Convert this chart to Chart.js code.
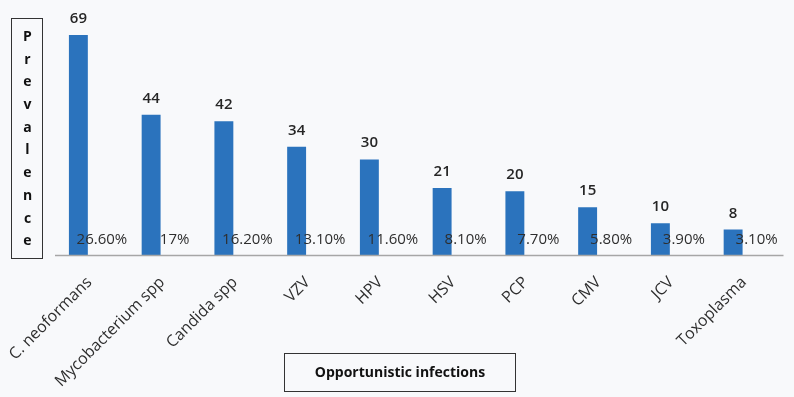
<!DOCTYPE html>
<html>
<head>
<meta charset="utf-8">
<script src="https://cdn.jsdelivr.net/npm/chart.js@4/dist/chart.umd.min.js"></script>
<style>
  html, body { margin: 0; padding: 0; background: #f8f9fb; }
  #wrap { width: 794px; height: 397px; position: relative; }
</style>
</head>
<body>
<div id="wrap"><canvas id="c" width="794" height="397"></canvas></div>
<script>
const categories = ["C. neoformans", "Mycobacterium spp", "Candida spp", "VZV", "HPV", "HSV", "PCP", "CMV", "JCV", "Toxoplasma"];
const prevalenceCounts = [69, 44, 42, 34, 30, 21, 20, 15, 10, 8];
const prevalencePercents = ["26.60%", "17%", "16.20%", "13.10%", "11.60%", "8.10%", "7.70%", "5.80%", "3.90%", "3.10%"];
const yAxisTitle = "Prevalence";
const xAxisTitle = "Opportunistic infections";

const FONT = "'Open Sans', 'DejaVu Sans', sans-serif";
const TEXT = "#262626";

const annotatePlugin = {
  id: 'annotate',
  afterDatasetsDraw(chart) {
    const ctx = chart.ctx;
    const meta = chart.getDatasetMeta(0);
    const area = chart.chartArea;
    ctx.save();
    // axis line
    ctx.strokeStyle = '#a6a6a6';
    ctx.lineWidth = 1.5;
    ctx.beginPath();
    ctx.moveTo(area.left + 13, area.bottom + 0.5);
    ctx.lineTo(area.right + 14, area.bottom + 0.5);
    ctx.stroke();

    meta.data.forEach((bar, i) => {
      // value labels
      ctx.fillStyle = TEXT;
      ctx.font = "600 15px " + FONT;
      ctx.textAlign = 'center';
      ctx.textBaseline = 'alphabetic';
      ctx.fillText(String(prevalenceCounts[i]), bar.x, bar.y - 12);
      // percent labels
      ctx.font = "500 15px " + FONT;
      ctx.fillStyle = '#2e2e2e';
      ctx.fillText(prevalencePercents[i], bar.x + 23.5, area.bottom - 11);
    });

    // Y title box
    ctx.strokeStyle = '#333';
    ctx.lineWidth = 1;
    ctx.strokeRect(11.5, 18.5, 31, 240);
    ctx.fillStyle = '#111';
    ctx.font = "bold 14px " + FONT;
    ctx.textAlign = 'center';
    ctx.textBaseline = 'middle';
    const letters = Array.from(yAxisTitle);
    letters.forEach((ch, k) => {
      ctx.fillText(ch, 27.5, 37 + k * 22.7);
    });

    // X title box
    ctx.strokeRect(284.5, 353.5, 231, 38);
    ctx.font = "bold 14px " + FONT;
    ctx.fillText(xAxisTitle, 400, 373);
    ctx.restore();
  }
};

new Chart(document.getElementById('c'), {
  type: 'bar',
  data: {
    labels: categories,
    datasets: [{
      data: prevalenceCounts,
      backgroundColor: '#2b73bd',
      borderWidth: 0,
      barPercentage: 0.26,
      categoryPercentage: 1.0
    }]
  },
  options: {
    responsive: false,
    animation: false,
    devicePixelRatio: 1,
    layout: { padding: { left: 42, right: 24.5, top: 0, bottom: 0 } },
    plugins: { legend: { display: false }, tooltip: { enabled: false } },
    scales: {
      y: { display: false, min: 0, max: 80 },
      x: {
        grid: { display: false, drawTicks: false },
        border: { display: false },
        ticks: {
          color: '#2e2e2e',
          font: { family: FONT, size: 16 },
          minRotation: 45,
          maxRotation: 45,
          padding: 18,
          labelOffset: 11,
          autoSkip: false
        },
        afterFit(scale) {
          scale.height = 142;
          scale.paddingLeft = 0;
          scale.paddingRight = 0;
        }
      }
    }
  },
  plugins: [annotatePlugin]
});
</script>
</body>
</html>
